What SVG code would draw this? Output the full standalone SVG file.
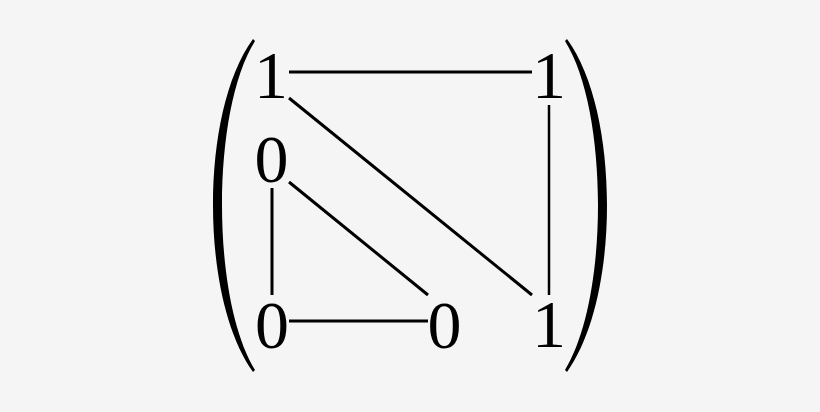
<svg xmlns="http://www.w3.org/2000/svg" width="820" height="412" viewBox="0 0 820 412">
<style>
.d{font-family:"Liberation Serif","Times New Roman",serif;font-size:68px;fill:#000;text-anchor:middle}
.e{stroke:#000;stroke-width:3;fill:none}
.p{fill:#000}
</style>
<defs>
<path id="lp" d="M 253,39 C 226,76 213,140 213,205 C 213,270 226,334 253,372 L 255,370 C 233,334 222,270 222,205 C 222,140 233,76 255,41 Z"/>
</defs>
<rect width="820" height="412" fill="#f5f5f5"/>
<g id="brackets">
<use href="#lp" class="p"/>
<use href="#lp" class="p" transform="translate(820,0) scale(-1,1)"/>
</g>
<g id="connectors">
<line class="e" x1="289" y1="72" x2="532" y2="72"/>
<line class="e" x1="289" y1="98" x2="532" y2="295"/>
<line class="e" x1="549" y1="105" x2="549" y2="295" style="stroke-width:2.5"/>
<line class="e" x1="272" y1="188" x2="272" y2="295"/>
<line class="e" x1="289" y1="182" x2="428" y2="295"/>
<line class="e" x1="289" y1="321" x2="428" y2="321"/>
</g>
<g id="n11"><text class="d" x="271" y="98">1</text></g>
<g id="n13"><text class="d" x="549" y="98">1</text></g>
<g id="n21"><text class="d" x="271.5" y="182">0</text></g>
<g id="n31"><text class="d" x="272" y="348">0</text></g>
<g id="n32"><text class="d" x="444.5" y="348">0</text></g>
<g id="n33"><text class="d" x="549" y="347">1</text></g>
</svg>
